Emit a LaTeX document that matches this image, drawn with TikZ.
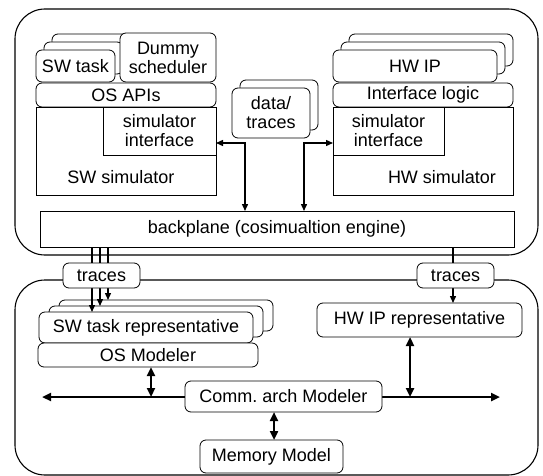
\documentclass[tikz,border=0pt]{standalone}
\usepackage{fontspec}
\setmainfont{Liberation Sans}
\usepackage{tikz}
\usetikzlibrary{arrows.meta,calc}
\tikzstyle{every node}=[font=\fontsize{18}{19}\selectfont]
\tikzstyle{box}=[draw, fill=white, rounded corners=6pt, line width=0.8pt, inner sep=0pt, outer sep=0pt, align=center]
\tikzstyle{simbox}=[draw, fill=white, line width=0.8pt, inner sep=0pt, outer sep=0pt, align=center]
\tikzstyle{frame}=[draw, rounded corners=30pt, line width=1.1pt]
\tikzstyle{link}=[>={Triangle[length=7pt,width=6pt]}, line width=1.4pt]
\tikzstyle{bus}=[<->, >={Triangle[length=9pt,width=8pt]}, line width=2.3pt]

\begin{document}
\begin{tikzpicture}[x=1pt, y=-1pt]
      \useasboundingbox (0,0) rectangle (543,476);
      \draw[frame] (15,9) rectangle (538,255);
      \draw[frame] (15,280) rectangle (538,475);
      % software simulator
      \node(swtaskC) [box, minimum width=79pt, minimum height=32pt] at (91.5,50){};
      \node(swtaskB) [box, minimum width=79pt, minimum height=32pt] at (83.5,58){};
      \node(swtask) [box, minimum width=79pt, minimum height=32pt] at (75.5,66){SW task};
      \node(dummy) [box, minimum width=96pt, minimum height=49pt] at (168,57.5){Dummy\\scheduler};
      \node(swsim) [simbox, minimum width=180pt, minimum height=88pt, label={[anchor=center, xshift=-5pt, yshift=18pt]south:SW simulator}] at (126,151){};
      \node(osapi) [box, minimum width=180pt, minimum height=24pt] at (126,95){OS APIs};
      \node(swif) [simbox, minimum width=113pt, minimum height=48pt] at (159.5,131){simulator\\interface};
      % hardware simulator
      \node(hwipC) [box, minimum width=164pt, minimum height=32pt] at (431,50){};
      \node(hwipB) [box, minimum width=164pt, minimum height=32pt] at (423,58){};
      \node(hwip) [box, minimum width=164pt, minimum height=32pt] at (415,66){HW IP};
      \node(hwsim) [simbox, minimum width=180pt, minimum height=88pt, label={[anchor=center, xshift=19pt, yshift=18pt]south:HW simulator}] at (423,151){};
      \node(iflogic) [box, minimum width=180pt, minimum height=24pt] at (423,95){Interface logic};
      \node(hwif) [simbox, minimum width=111pt, minimum height=48pt] at (388.5,131){simulator\\interface};
      % data
      \node(dataB) [box, minimum width=78pt, minimum height=50pt] at (279,105){};
      \node(data) [box, minimum width=78pt, minimum height=50pt] at (271,113){data/\\traces};
      \node(backplane) [simbox, minimum width=474pt, minimum height=36pt] at (277,229){backplane (cosimualtion engine)};
      \draw[link, <->] (backplane.north -| 245,0) |- ([yshift=-12pt]swif.east);
      \draw[link, <->] (backplane.north -| 304,0) |- ([yshift=-12pt]hwif.west);
      % modelers
      \node(swrepC) [box, minimum width=214pt, minimum height=31pt] at (166,315.5){};
      \node(swrepB) [box, minimum width=214pt, minimum height=31pt] at (156,321.5){};
      \node(swrep) [box, minimum width=214pt, minimum height=31pt] at (146,327.5){SW task representative};
      \node(osmod) [box, minimum width=220pt, minimum height=24pt] at (148,355){OS Modeler};
      \node(hwrep) [box, minimum width=205pt, minimum height=34pt] at (419.5,320){HW IP representative};
      \coordinate(busL) at (42,397);
      \coordinate(busR) at (500,397);
      \draw[bus] (busL) -- (busR);
      \node(comm) [box, minimum width=197pt, minimum height=31pt] at (283.5,396.5){Comm.\ arch Modeler};
      \node(memory) [box, minimum width=143pt, minimum height=33pt] at (271.5,456.5){Memory Model};
      \draw[bus] (osmod.south -| 151,0) -- (busL -| 151,0);
      \draw[bus] (hwrep.south -| 410,0) -- (busL -| 410,0);
      \draw[bus] (comm.south -| 274,0) -- (memory.north -| 274,0);
      % traces
      \draw[link, ->] (backplane.south -| 92,0) -- (swrep.north -| 92,0);
      \draw[link, ->] (backplane.south -| 100,0) -- (swrepB.north -| 100,0);
      \draw[link, ->] (backplane.south -| 108,0) -- (swrepC.north -| 108,0);
      \draw[link, ->] (backplane.south -| 453,0) -- (hwrep.north -| 453,0);
      \node(tracesL) [box, minimum width=77pt, minimum height=25pt] at (101.5,275.5){traces};
      \node(tracesR) [box, minimum width=77pt, minimum height=25pt] at (455.5,275.5){traces};
\end{tikzpicture}
\end{document}
